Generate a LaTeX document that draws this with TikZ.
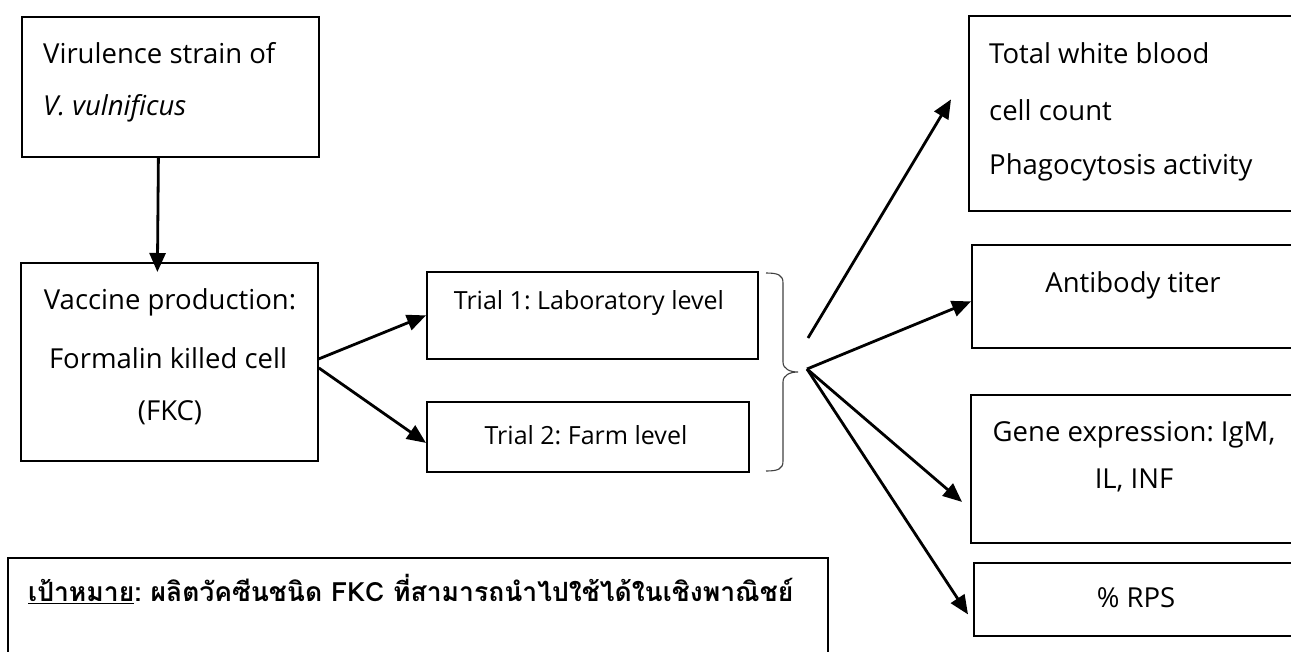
\documentclass[tikz,border=0pt]{standalone}
\usepackage{fontspec}
\setmainfont{Open Sans}
\newfontfamily\thaifont[Script=Thai]{Loma}
\usetikzlibrary{arrows.meta}
\frenchspacing
\begin{document}
\begin{tikzpicture}[x=1pt,y=-1pt,
  box/.style={draw, line width=1.8pt, inner sep=0pt, anchor=north west},
  txt/.style={inner sep=0pt, font=\fontsize{27.5}{32}\selectfont},
  smalltxt/.style={inner sep=0pt, font=\fontsize{25}{30}\selectfont},
  arr/.style={line width=2.8pt, -{Triangle[length=19pt,width=16pt]}},
  bracestyle/.style={line width=1.1pt, draw=black!75},
  ]
\useasboundingbox (0,0) rectangle (1291,651);
\clip (0,0) rectangle (1291,651);

% left column boxes
\node[box, minimum width=297pt, minimum height=140pt] (b1) at (21,16) {};
\node[box, minimum width=297pt, minimum height=198pt] (b2) at (20,262) {};
% trial boxes
\node[box, minimum width=331pt, minimum height=87pt] (t1) at (426,271) {};
\node[box, minimum width=322pt, minimum height=70pt] (t2) at (426,401) {};
% right column boxes
\node[box, minimum width=342pt, minimum height=195pt] (r1) at (968,15) {};
\node[box, minimum width=340pt, minimum height=103pt] (r2) at (971,244) {};
\node[box, minimum width=340pt, minimum height=148pt] (r3) at (970,394) {};
\node[box, minimum width=337pt, minimum height=73pt] (r4) at (973,562) {};
% goal box
\node[box, minimum width=820pt, minimum height=120pt] (g) at (7,557) {};

% texts
\node[txt, anchor=west] (b1a) at (43,53) {Virulence strain of};
\node[txt, anchor=west] (b1b) at (43,108) {\itshape V. vulnificus};
\node[txt] (b2a) at (170,302) {Vaccine production:};
\node[txt] (b2b) at (168,358) {Formalin killed cell};
\node[txt] (b2c) at (170,413) {(FKC)};
\node[smalltxt] (t1a) at (589,303) {Trial 1: Laboratory level};
\node[smalltxt] (t2a) at (586,435) {Trial 2: Farm level};
\node[txt, anchor=west] (r1a) at (989,53) {Total white blood};
\node[txt, anchor=west] (r1b) at (989,110) {cell count};
\node[txt, anchor=west] (r1c) at (989,167) {Phagocytosis activity};
\node[txt] (r2a) at (1133,285) {Antibody titer};
\node[txt] (r3a) at (1134,435) {Gene expression: IgM,};
\node[txt] (r3b) at (1134,480) {IL, INF};
\node[txt] (r4a) at (1136,598) {\% RPS};
\node[inner sep=0pt, anchor=west, font=\thaifont\bfseries\fontsize{26.5}{30}\selectfont] (ga) at (28,589)
  {\underline{เป้าหมาย}: ผลิตวัคซีนชนิด FKC ที่สามารถนำไปใช้ได้ในเชิงพาณิชย์};

% connectors
\draw[arr] ([xshift=-12pt]b1.south) -- ([xshift=-12pt,yshift=-10pt]b2.north);
\draw[arr] ([yshift=3pt]b2.east) -- (t1.west);
\draw[arr] ([yshift=-6pt]b2.east) -- ([yshift=-6pt]t2.west);

% brace
\draw[bracestyle] (766,273) .. controls (778,273) and (783,275) .. (783,283)
  -- (783,362) .. controls (783,369) and (790,372) .. (798,372)
  .. controls (790,372) and (783,375) .. (783,382)
  -- (783,461) .. controls (783,469) and (778,471) .. (766,471);

\coordinate (fan) at (807,369);
\coordinate (fantop) at (808,338);
\draw[arr] (fantop) -- ([xshift=-17pt,yshift=14pt]r1.west);
\draw[arr] (fan) -- ([yshift=-5pt]r2.west);
\draw[arr] (fan) -- ([xshift=-8pt,yshift=-33pt]r3.west);
\draw[arr] (fan) -- ([xshift=-5pt,yshift=-15pt]r4.west);
\end{tikzpicture}
\end{document}
